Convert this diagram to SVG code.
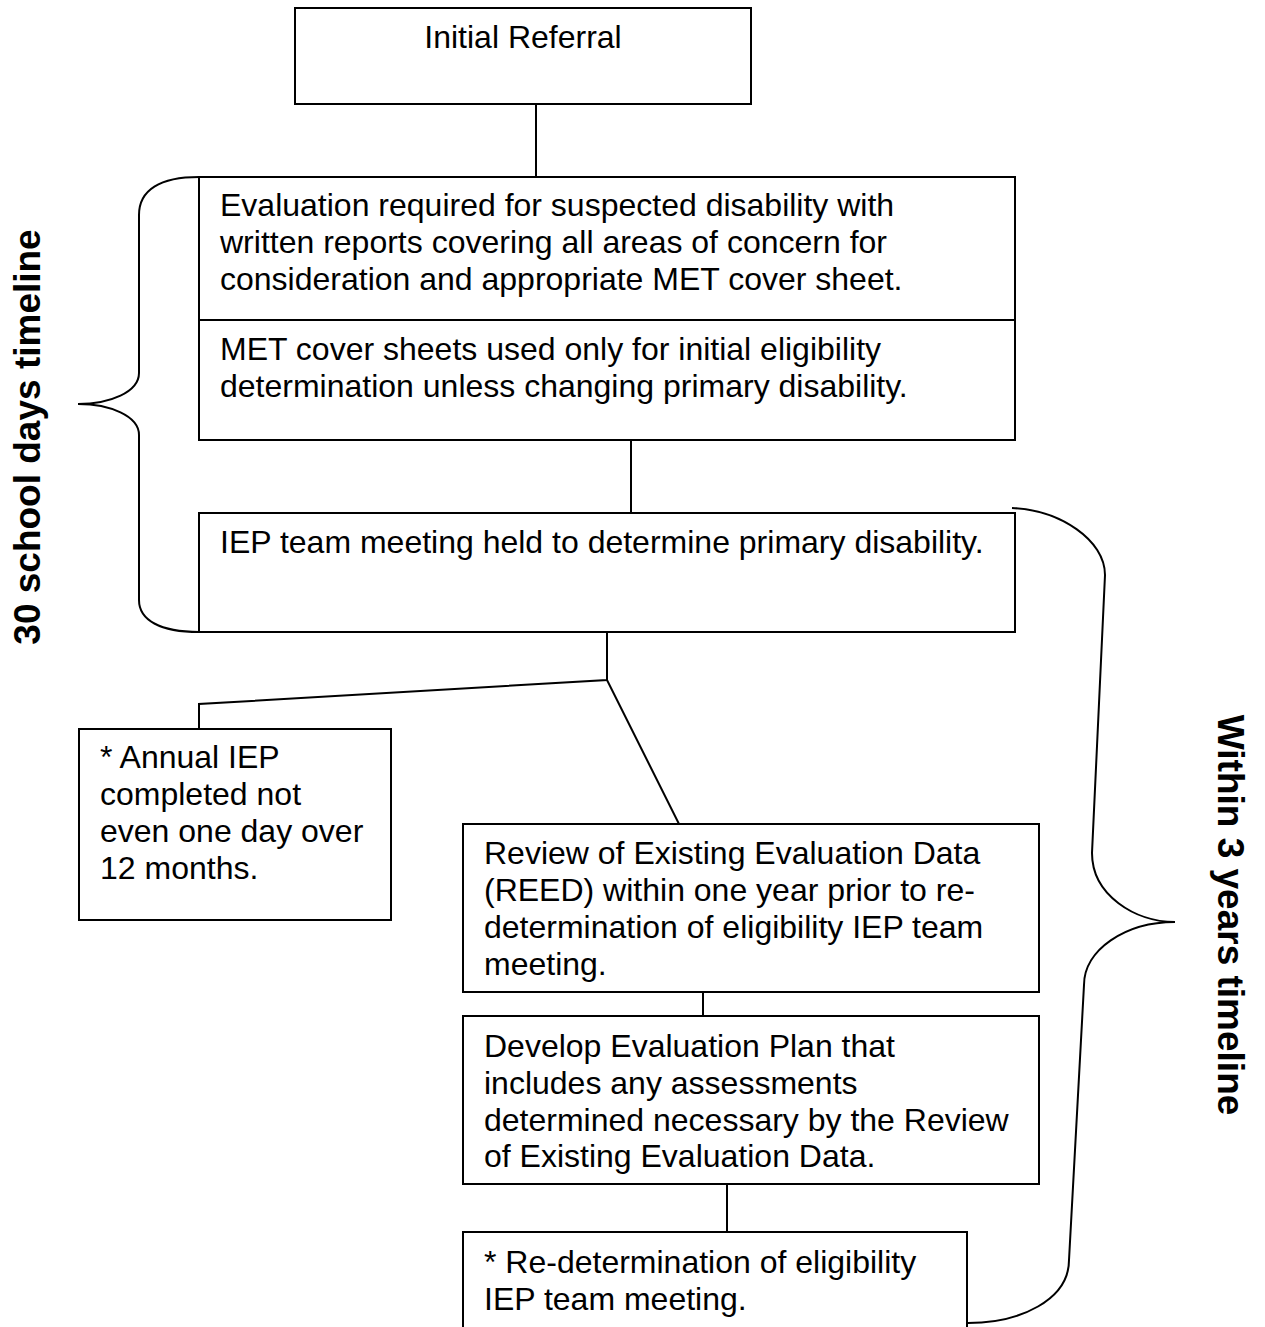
<svg xmlns="http://www.w3.org/2000/svg" width="1265" height="1327" viewBox="0 0 1265 1327">
<style>
.box{fill:#fff;stroke:#000;stroke-width:2}
.ln{fill:none;stroke:#000;stroke-width:2}
.t{font-family:"Liberation Sans",Arial,sans-serif;font-size:32px;fill:#000}
.b{font-family:"Liberation Sans",Arial,sans-serif;font-size:37px;font-weight:bold;fill:#000}
</style>
<rect width="1265" height="1327" fill="#fff"/>
<g id="connectors">
<line class="ln" x1="536" y1="104" x2="536" y2="177"/>
<line class="ln" x1="631" y1="440" x2="631" y2="513"/>
<polyline class="ln" points="607,632 607,680 199,704 199,729"/>
<line class="ln" x1="607" y1="680" x2="679" y2="824"/>
<line class="ln" x1="703" y1="992" x2="703" y2="1016"/>
<line class="ln" x1="727" y1="1184" x2="727" y2="1232"/>
</g>
<g id="brace-left">
<path class="ln" d="M199,177 C160,177 139,190 139,215 L139,373 C139,392 110,404 78,404 C110,404 139,416 139,435 L139,600 C139,620 160,632 199,632"/>
<text class="b" transform="translate(40,437) rotate(-90)" text-anchor="middle">30 school days timeline</text>
</g>
<g id="brace-right">
<path class="ln" d="M1012,508 C1060,510 1105,540 1105,575 L1092,853 C1092,895 1135,922 1175,922 C1125,922 1084,950 1084,985 L1069,1260 C1069,1300 1020,1323 968,1323"/>
<text class="b" transform="translate(1218,915) rotate(90)" text-anchor="middle">Within 3 years timeline</text>
</g>
<g id="n-referral">
<rect class="box" x="295" y="8" width="456" height="96"/>
<text class="t" x="523" y="48" text-anchor="middle">Initial Referral</text>
</g>
<g id="n-evaluation">
<rect class="box" x="199" y="177" width="816" height="143"/>
<text class="t" x="220" y="216">Evaluation required for suspected disability with</text>
<text class="t" x="220" y="253">written reports covering all areas of concern for</text>
<text class="t" x="220" y="290">consideration and appropriate MET cover sheet.</text>
</g>
<g id="n-met">
<rect class="box" x="199" y="320" width="816" height="120"/>
<text class="t" x="220" y="360">MET cover sheets used only for initial eligibility</text>
<text class="t" x="220" y="397">determination unless changing primary disability.</text>
</g>
<g id="n-iep">
<rect class="box" x="199" y="513" width="816" height="119"/>
<text class="t" x="220" y="553">IEP team meeting held to determine primary disability.</text>
</g>
<g id="n-annual">
<rect class="box" x="79" y="729" width="312" height="191"/>
<text class="t" x="100" y="768">* Annual IEP</text>
<text class="t" x="100" y="805">completed not</text>
<text class="t" x="100" y="842">even one day over</text>
<text class="t" x="100" y="879">12 months.</text>
</g>
<g id="n-reed">
<rect class="box" x="463" y="824" width="576" height="168"/>
<text class="t" x="484" y="864">Review of Existing Evaluation Data</text>
<text class="t" x="484" y="901">(REED) within one year prior to re-</text>
<text class="t" x="484" y="938">determination of eligibility IEP team</text>
<text class="t" x="484" y="975">meeting.</text>
</g>
<g id="n-plan">
<rect class="box" x="463" y="1016" width="576" height="168"/>
<text class="t" x="484" y="1057">Develop Evaluation Plan that</text>
<text class="t" x="484" y="1094">includes any assessments</text>
<text class="t" x="484" y="1131">determined necessary by the Review</text>
<text class="t" x="484" y="1167">of Existing Evaluation Data.</text>
</g>
<g id="n-redetermination">
<rect class="box" x="463" y="1232" width="504" height="110"/>
<text class="t" x="484" y="1273">* Re-determination of eligibility</text>
<text class="t" x="484" y="1310">IEP team meeting.</text>
</g>
</svg>
